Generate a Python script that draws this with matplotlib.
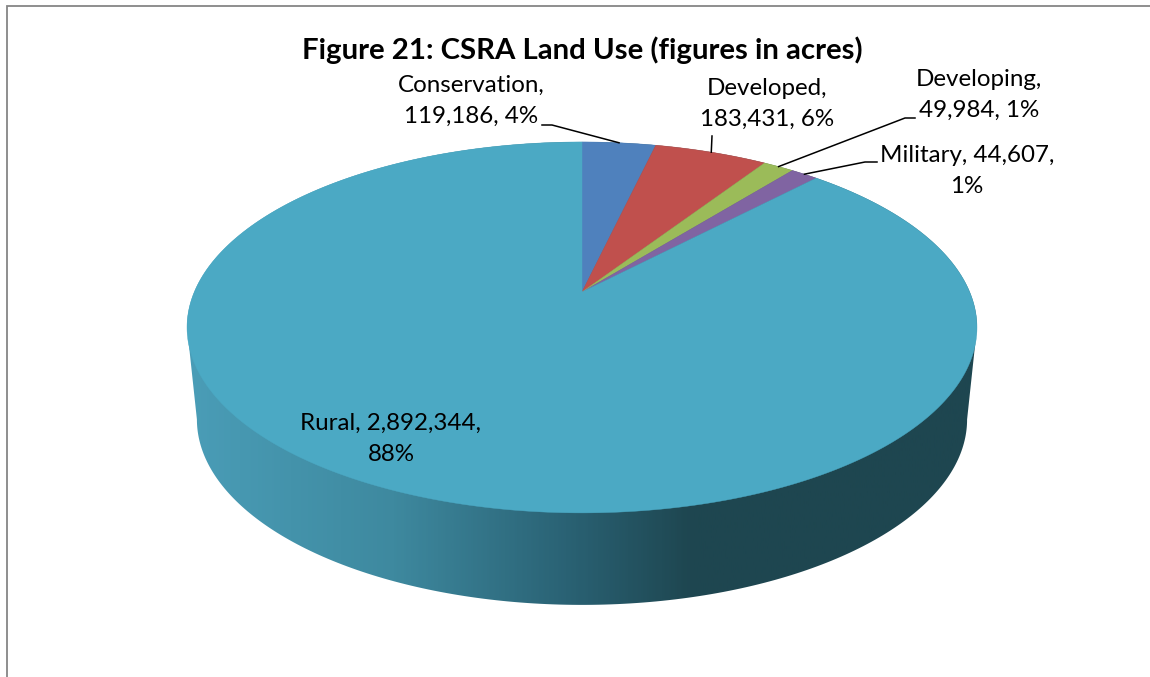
import matplotlib
matplotlib.use("Agg")
import matplotlib.pyplot as plt
import numpy as np
from matplotlib.colors import LinearSegmentedColormap
from matplotlib.patches import Polygon

plt.rcParams['font.family'] = ['Lato', 'DejaVu Sans']

categories = ["Conservation", "Developed", "Developing", "Military", "Rural"]
acres = [119186, 183431, 49984, 44607, 2892344]
percents = ["4%", "6%", "1%", "1%", "88%"]
colors = ["#4F81BD", "#C0504D", "#9BBB59", "#8064A2", "#4BA9C4"]

fig = plt.figure(figsize=(11.5, 6.77), dpi=100)
ax = fig.add_axes([0, 0, 1, 1])
ax.set_xlim(0, 1150)
ax.set_ylim(677, 0)
ax.axis("off")


# circle -> picture, perspective so the apex sits above the ellipse middle
def project(deg, r=1.0, cx=582, cy=292, a=178.7, b=-0.191, c=387.7):
    t = np.radians(deg)
    u = r * np.sin(t)
    v = -r * np.cos(t)
    d = 1 + b * v
    return cx + c * u / d, cy + a * v / d


def lower_rim(deg):
    # bottom edge of the side wall
    x, y = project(deg)
    return 582 + (x - 582) * 0.975, y + 92


# side wall with gradient, 259/101 are the widest points of the ellipse
left = np.linspace(259, 101, 200)
right_top = np.linspace(101, -101, 200)
bx, by = lower_rim(left)
tx, ty = project(right_top)
wall = Polygon(np.column_stack([np.r_[bx, tx], np.r_[by, ty]]), closed=True,
               fc="none", ec="none")
ax.add_patch(wall)
side = LinearSegmentedColormap.from_list("side", [
    (0.00, "#4A9DB7"), (0.26, "#3E899F"), (0.48, "#2A6274"),
    (0.64, "#1E4650"), (1.00, "#1E4650")])
im = ax.imshow(np.linspace(0, 1, 400).reshape(1, -1), cmap=side, aspect="auto",
               extent=(187, 977, 677, 0), zorder=1)
im.set_clip_path(wall)
ax.set_xlim(0, 1150)
ax.set_ylim(677, 0)

# pie top
shares = np.array(acres) / sum(acres) * 360
ends = np.cumsum(shares)
starts = ends - shares
mids = (starts + ends) / 2
for s, e, col in zip(starts, ends, colors):
    ang = np.linspace(s, e, max(int(e - s) * 2, 6))
    x, y = project(ang)
    ax.add_patch(Polygon(np.column_stack([np.r_[582, x], np.r_[292, y]]), closed=True,
                         fc=col, ec=col, lw=0.3, zorder=2))

# frame
ax.plot([7, 7, 1150], [677, 5.5, 5.5], color="#868686", lw=1.3, zorder=5, solid_joinstyle="miter")

ax.text(582, 50, "Figure 21: CSRA Land Use (figures in acres)", fontsize=21.2, fontweight="bold",
        ha="center", va="center", color="black")

# labels with leader lines
labels = [
    f"{categories[0]},\n{acres[0]:,}, {percents[0]}",
    f"{categories[1]},\n{acres[1]:,}, {percents[1]}",
    f"{categories[2]},\n{acres[2]:,}, {percents[2]}",
    f"{categories[3]}, {acres[3]:,},\n{percents[3]}",
    f"{categories[4]}, {acres[4]:,},\n{percents[4]}",
]
label_xy = [(471, 101), (767, 104), (979, 95), (967, 171), (391, 439)]
elbows = [[(542, 125), (552, 125)], [(712, 136)], [(915, 118), (905, 118)], [(877, 162), (865, 162)], None]
for i, txt in enumerate(labels):
    ax.text(label_xy[i][0], label_xy[i][1], txt, fontsize=17.4, ha="center", va="center",
            color="black", linespacing=1.62, zorder=6)
    if elbows[i]:
        tx1, ty1 = project(mids[i])
        px = [p[0] for p in elbows[i]] + [float(tx1)]
        py = [p[1] for p in elbows[i]] + [float(ty1)]
        ax.plot(px, py, color="black", lw=1.1, zorder=6)

fig.savefig("out.png", dpi=100, facecolor="white")
